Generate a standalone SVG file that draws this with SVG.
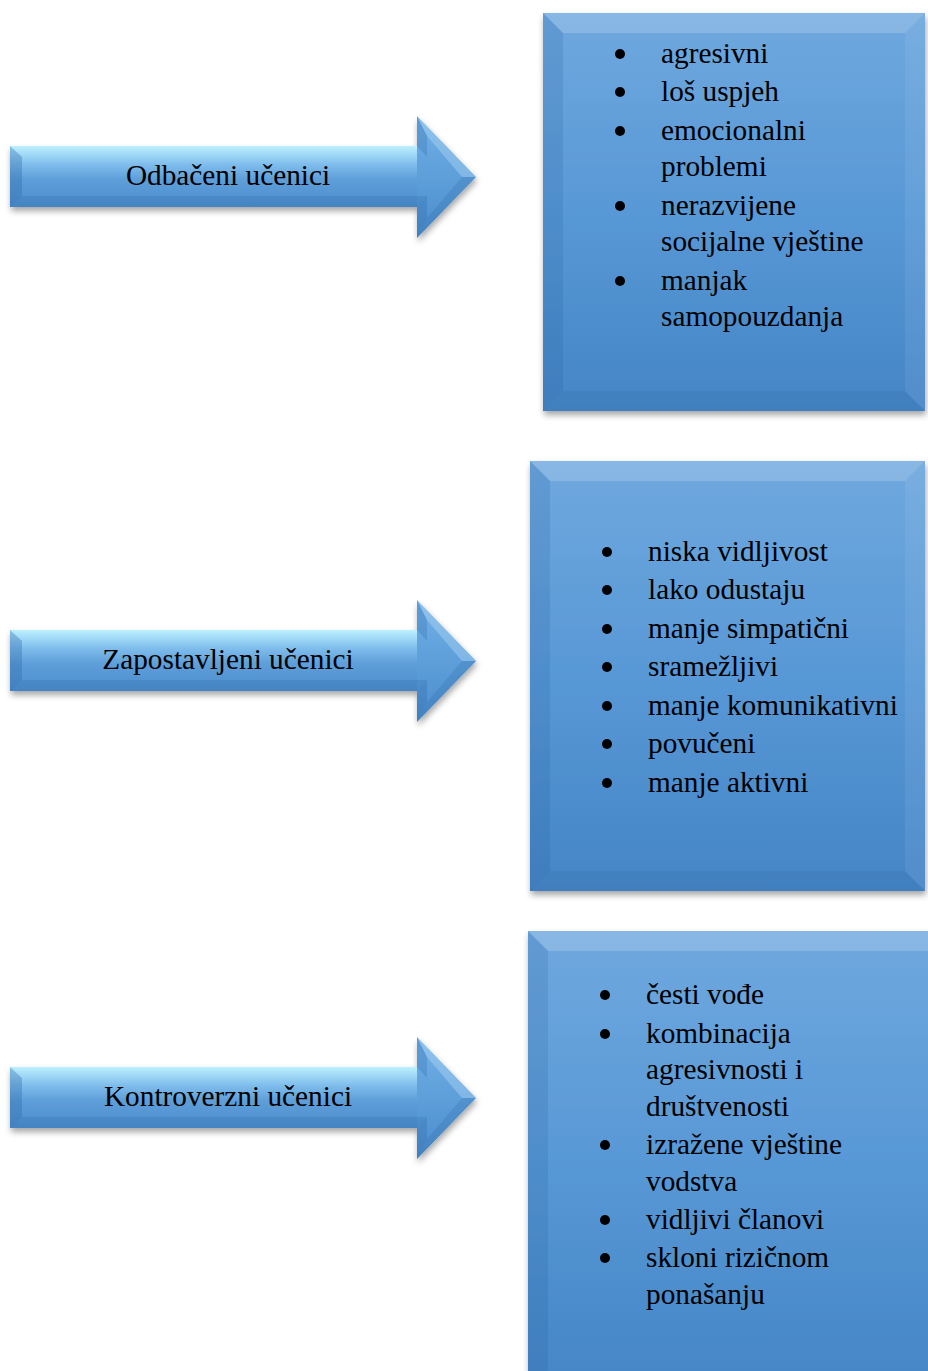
<svg xmlns="http://www.w3.org/2000/svg" width="928" height="1371" viewBox="0 0 928 1371">
<defs>
<style>
.t{font-family:"Liberation Serif","Times New Roman",serif;font-size:29.3px;fill:#000}
.lbl{text-anchor:middle}
.dot{fill:#000}
</style>
<filter id="sh" x="-5%" y="-5%" width="115%" height="120%">
<feDropShadow dx="1" dy="4" stdDeviation="3" flood-color="#000" flood-opacity="0.35"/>
</filter>
<linearGradient id="shaft" gradientUnits="userSpaceOnUse" x1="0" y1="30" x2="0" y2="91">
<stop offset="0" stop-color="#bdf0ff"/>
<stop offset="0.3" stop-color="#7fbdec"/>
<stop offset="0.55" stop-color="#5e9ed9"/>
<stop offset="1" stop-color="#4c8dcd"/>
</linearGradient>
<linearGradient id="head" gradientUnits="userSpaceOnUse" x1="0" y1="0" x2="0" y2="122">
<stop offset="0" stop-color="#72afe5"/>
<stop offset="0.5" stop-color="#5e9fda"/>
<stop offset="1" stop-color="#4a8bcb"/>
</linearGradient>
<linearGradient id="box" x1="0" y1="0" x2="0" y2="1">
<stop offset="0" stop-color="#6fa8de"/>
<stop offset="0.5" stop-color="#5898d6"/>
<stop offset="1" stop-color="#4585c6"/>
</linearGradient>
<g id="arrowShape">
<polygon points="0,30 408,30 408,91 0,91" fill="url(#shaft)"/>
<polygon points="407,0 466,61 407,122" fill="url(#head)"/>
<polygon points="0,30 12,41 12,80 0,91" fill="#2f6aa8" opacity="0.35"/>
<polygon points="0,91 12,80 417,80 407,91" fill="#2f6aa8" opacity="0.25"/>
<polygon points="407,30 407,0 417,20 417,41" fill="#3b78b8" opacity="0.35"/>
<polygon points="407,0 466,61 452,61 417,20" fill="#cfefff" opacity="0.3"/>
<polygon points="466,61 407,122 417,102 452,61" fill="#2f6aa8" opacity="0.25"/>
<polygon points="407,122 407,91 417,80 417,102" fill="#2f6aa8" opacity="0.3"/>
</g>
</defs>

<g id="connectors">
<g id="arrow1" filter="url(#sh)" transform="translate(10,116)"><use href="#arrowShape"/></g>
<g id="arrow2" filter="url(#sh)" transform="translate(10,600)"><use href="#arrowShape"/></g>
<g id="arrow3" filter="url(#sh)" transform="translate(10,1037)"><use href="#arrowShape"/></g>
</g>

<g id="label1"><text class="t lbl" x="228" y="185">Odbačeni učenici</text></g>
<g id="label2"><text class="t lbl" x="228" y="669">Zapostavljeni učenici</text></g>
<g id="label3"><text class="t lbl" x="228" y="1106">Kontroverzni učenici</text></g>

<g id="box1">
<g filter="url(#sh)">
<rect x="543" y="13" width="382" height="398" fill="url(#box)"/>
</g>
<polygon points="543,13 925,13 905,33 563,33" fill="#ffffff" opacity="0.18"/>
<polygon points="543,13 563,33 563,391 543,411" fill="#1d4f8a" opacity="0.15"/>
<polygon points="925,13 925,411 905,391 905,33" fill="#ffffff" opacity="0.07"/>
<polygon points="543,411 563,391 905,391 925,411" fill="#1d4f8a" opacity="0.1"/>
<circle class="dot" cx="620" cy="54" r="5"/><text class="t" x="661" y="63">agresivni</text>
<circle class="dot" cx="620" cy="92" r="5"/><text class="t" x="661" y="101">loš uspjeh</text>
<circle class="dot" cx="620" cy="131" r="5"/><text class="t" x="661" y="140">emocionalni</text>
<text class="t" x="661" y="176">problemi</text>
<circle class="dot" cx="620" cy="206" r="5"/><text class="t" x="661" y="215">nerazvijene</text>
<text class="t" x="661" y="251">socijalne vještine</text>
<circle class="dot" cx="620" cy="281" r="5"/><text class="t" x="661" y="290">manjak</text>
<text class="t" x="661" y="326">samopouzdanja</text>
</g>

<g id="box2">
<g filter="url(#sh)">
<rect x="530" y="461" width="395" height="430" fill="url(#box)"/>
</g>
<polygon points="530,461 925,461 905,481 550,481" fill="#ffffff" opacity="0.18"/>
<polygon points="530,461 550,481 550,871 530,891" fill="#1d4f8a" opacity="0.15"/>
<polygon points="925,461 925,891 905,871 905,481" fill="#ffffff" opacity="0.07"/>
<polygon points="530,891 550,871 905,871 925,891" fill="#1d4f8a" opacity="0.1"/>
<circle class="dot" cx="607" cy="552" r="5"/><text class="t" x="648" y="561">niska vidljivost</text>
<circle class="dot" cx="607" cy="590" r="5"/><text class="t" x="648" y="599">lako odustaju</text>
<circle class="dot" cx="607" cy="629" r="5"/><text class="t" x="648" y="638">manje simpatični</text>
<circle class="dot" cx="607" cy="667" r="5"/><text class="t" x="648" y="676">sramežljivi</text>
<circle class="dot" cx="607" cy="706" r="5"/><text class="t" x="648" y="715">manje komunikativni</text>
<circle class="dot" cx="607" cy="744" r="5"/><text class="t" x="648" y="753">povučeni</text>
<circle class="dot" cx="607" cy="783" r="5"/><text class="t" x="648" y="792">manje aktivni</text>
</g>

<g id="box3">
<g filter="url(#sh)">
<rect x="528" y="931" width="420" height="460" fill="url(#box)"/>
</g>
<polygon points="528,931 948,931 928,951 548,951" fill="#ffffff" opacity="0.18"/>
<polygon points="528,931 548,951 548,1371 528,1391" fill="#1d4f8a" opacity="0.15"/>
<circle class="dot" cx="605" cy="995" r="5"/><text class="t" x="646" y="1004">česti vođe</text>
<circle class="dot" cx="605" cy="1034" r="5"/><text class="t" x="646" y="1043">kombinacija</text>
<text class="t" x="646" y="1079">agresivnosti i</text>
<text class="t" x="646" y="1116">društvenosti</text>
<circle class="dot" cx="605" cy="1145" r="5"/><text class="t" x="646" y="1154">izražene vještine</text>
<text class="t" x="646" y="1191">vodstva</text>
<circle class="dot" cx="605" cy="1220" r="5"/><text class="t" x="646" y="1229">vidljivi članovi</text>
<circle class="dot" cx="605" cy="1258" r="5"/><text class="t" x="646" y="1267">skloni rizičnom</text>
<text class="t" x="646" y="1304">ponašanju</text>
</g>
</svg>
